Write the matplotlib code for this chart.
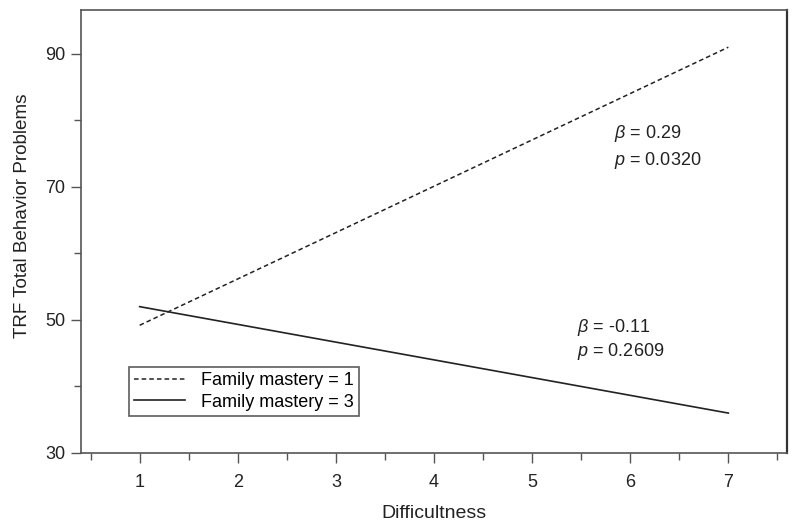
import numpy as np
import matplotlib.pyplot as plt
from matplotlib.ticker import MultipleLocator

plt.rcParams['font.family'] = ['Liberation Sans', 'DejaVu Sans']
plt.rcParams['mathtext.fontset'] = 'custom'
plt.rcParams['mathtext.rm'] = 'Liberation Sans'
plt.rcParams['mathtext.it'] = 'Liberation Sans:italic'

# simple slopes at difficultness 1 and 7
x_end = [1, 7]
low_mastery = [49.2, 91.0]
high_mastery = [52.0, 36.0]
series_labels = ['Family mastery = 1', 'Family mastery = 3']
notes_low = [r'$\beta$ = 0.29', r'$p$ = 0.0320']
notes_high = [r'$\beta$ = -0.11', r'$p$ = 0.2609']

fig = plt.figure(figsize=(8, 5.24), dpi=100)
ax = fig.add_axes([0.101, 0.1355, 0.883, 0.8455])

ax.plot(x_end, low_mastery, color='#222222', lw=1.1, linestyle=(0, (3, 2)),
        label=series_labels[0])
ax.plot(x_end, high_mastery, color='#222222', lw=1.2, label=series_labels[1])

ax.set_xlim(0.4, 7.6)
ax.set_ylim(30, 96.6)
ax.xaxis.set_major_locator(MultipleLocator(1))
ax.xaxis.set_minor_locator(MultipleLocator(0.5))
ax.set_yticks([30, 50, 70, 90])
ax.set_yticks([40, 60, 80], minor=True)

for s in ax.spines.values():
    s.set_color('#555555')
    s.set_linewidth(1.2)
ax.spines['right'].set_color('#333333')
ax.spines['right'].set_linewidth(1.6)

ax.tick_params(which='major', length=7, width=1, labelsize=13, colors='#222222')
ax.tick_params(which='minor', length=5, width=1)
ax.tick_params(axis='x', which='major', pad=8)
ax.tick_params(axis='y', which='major', pad=4)
ax.tick_params(which='both', color='#555555')

ax.set_xlabel('Difficultness', fontsize=14, color='#222222', labelpad=10)
ax.set_ylabel('TRF Total Behavior Problems', fontsize=13.6, color='#222222')
ax.yaxis.set_label_coords(-0.071, 0.535)

ax.text(5.83, 78.1, notes_low[0], fontsize=13, va='center', color='#222222')
ax.text(5.83, 74.0, notes_low[1], fontsize=13, va='center', color='#222222')
ax.text(5.46, 48.9, notes_high[0], fontsize=13, va='center', color='#222222')
ax.text(5.46, 45.2, notes_high[1], fontsize=13, va='center', color='#222222')

leg = ax.legend(loc='lower left', bbox_to_anchor=(0.068, 0.083), fontsize=13,
                frameon=True, fancybox=False, borderpad=0.3, handlelength=2.8,
                handletextpad=0.9, labelspacing=0.25, borderaxespad=0)
leg.get_frame().set_edgecolor('#333333')
leg.get_frame().set_linewidth(1.2)

fig.savefig('out.png', dpi=100)
